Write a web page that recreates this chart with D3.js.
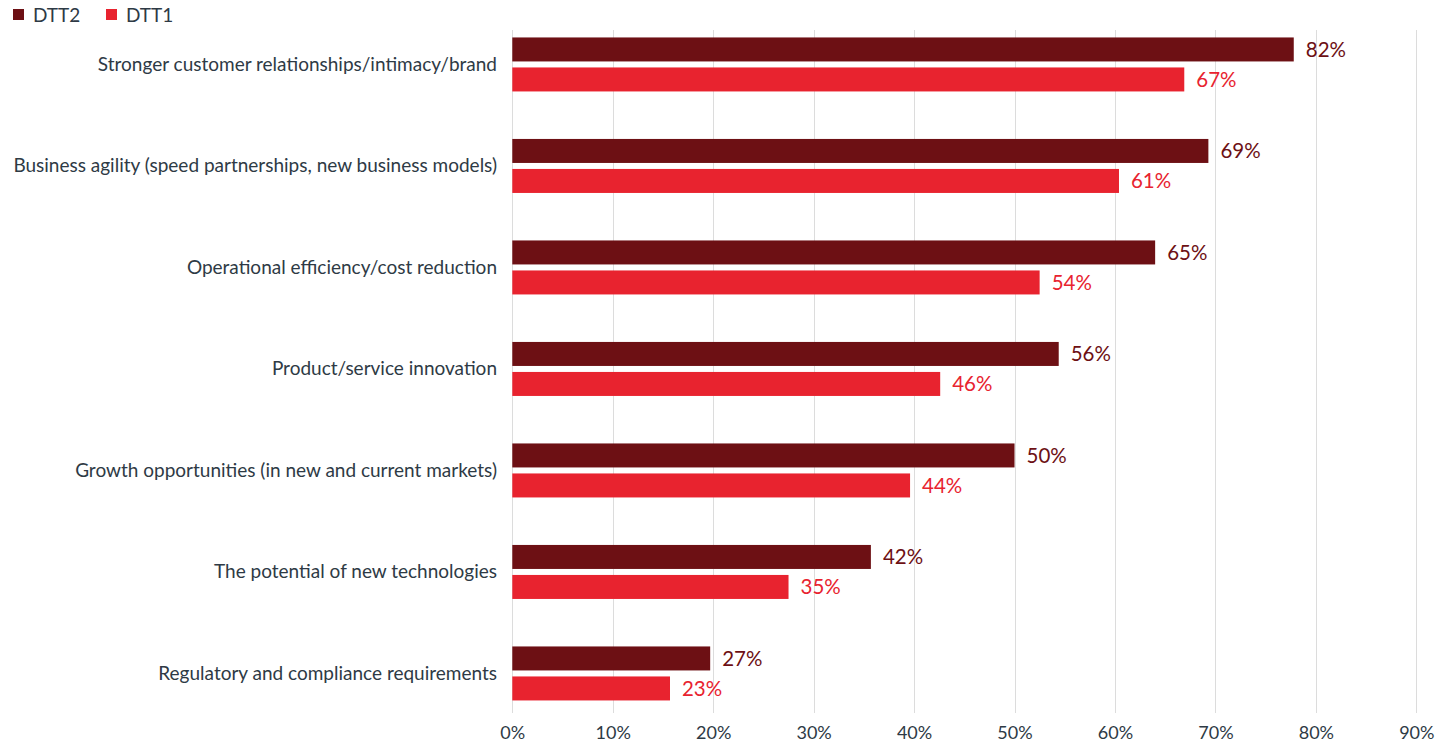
<!DOCTYPE html>
<html>
<head>
<meta charset="utf-8">
<script src="https://cdn.jsdelivr.net/npm/d3@7"></script>
<style>
  body { margin: 0; background: #fff; font-family: Lato, "Open Sans", sans-serif; }
  svg text { font-family: Lato, "Open Sans", sans-serif; }
</style>
</head>
<body>
<script>
var categories = [
  "Stronger customer relationships/intimacy/brand",
  "Business agility (speed partnerships, new business models)",
  "Operational efficiency/cost reduction",
  "Product/service innovation",
  "Growth opportunities (in new and current markets)",
  "The potential of new technologies",
  "Regulatory and compliance requirements"
];
var seriesNames = ["DTT2", "DTT1"];
// bar lengths as drawn in the picture
var dtt2Values = [77.8, 69.3, 64.0, 54.4, 50.0, 35.7, 19.7];
var dtt1Values = [66.9, 60.4, 52.5, 42.6, 39.6, 27.5, 15.7];
// labels as printed next to the bars
var dtt2Labels = ["82%", "69%", "65%", "56%", "50%", "42%", "27%"];
var dtt1Labels = ["67%", "61%", "54%", "46%", "44%", "35%", "23%"];
var xTicks = [0, 10, 20, 30, 40, 50, 60, 70, 80, 90];

var width = 1436, height = 743;
var colors = { DTT2: "#6d1014", DTT1: "#e8232f" };
var textColor = "#2e3a45";

var x = d3.scaleLinear().domain([0, 90]).range([512.3, 1416.3]);

var y = d3.scaleBand()
  .domain(categories)
  .range([13.7, 724.2])
  .paddingInner(0.468)
  .paddingOuter(0.234);

var yInner = d3.scaleBand()
  .domain(seriesNames)
  .range([0, y.bandwidth()])
  .paddingInner(0.2);

var rows = categories.map(function(c, i) {
  return {
    cat: c,
    bars: [
      { s: "DTT2", v: dtt2Values[i], label: dtt2Labels[i] },
      { s: "DTT1", v: dtt1Values[i], label: dtt1Labels[i] }
    ]
  };
});

var svg = d3.select("body").append("svg")
  .attr("width", width)
  .attr("height", height);

// gridlines
svg.append("g")
  .selectAll("line")
  .data(xTicks)
  .enter().append("line")
    .attr("x1", function(d) { return Math.round(x(d)) + 0.5; })
    .attr("x2", function(d) { return Math.round(x(d)) + 0.5; })
    .attr("y1", 30)
    .attr("y2", 713)
    .attr("stroke", "#dcdcdc")
    .attr("stroke-width", 1);

// x axis tick labels
var xAxis = d3.axisBottom(x)
  .tickValues(xTicks)
  .tickSize(0)
  .tickPadding(0)
  .tickFormat(function(d) { return d + "%"; });

var gx = svg.append("g")
  .attr("transform", "translate(0,733)")
  .call(xAxis);
gx.select(".domain").remove();
gx.selectAll("text")
  .attr("dy", "0.35em")
  .attr("y", 0)
  .attr("fill", textColor)
  .style("font-size", "18px");

// category labels
var yAxis = d3.axisLeft(y).tickSize(0).tickPadding(0);
var gy = svg.append("g")
  .attr("transform", "translate(497,0)")
  .call(yAxis);
gy.select(".domain").remove();
gy.selectAll("text")
  .attr("fill", textColor)
  .style("font-size", "19px");

// bars
var groups = svg.append("g")
  .selectAll("g")
  .data(rows)
  .enter().append("g")
    .attr("transform", function(d) { return "translate(0," + y(d.cat) + ")"; });

groups.selectAll("rect")
  .data(function(d) { return d.bars; })
  .enter().append("rect")
    .attr("x", x(0))
    .attr("y", function(d) { return yInner(d.s); })
    .attr("width", function(d) { return x(d.v) - x(0); })
    .attr("height", yInner.bandwidth())
    .attr("fill", function(d) { return colors[d.s]; });

groups.selectAll("text")
  .data(function(d) { return d.bars; })
  .enter().append("text")
    .attr("x", function(d) { return x(d.v) + 12; })
    .attr("y", function(d) { return yInner(d.s) + yInner.bandwidth() / 2; })
    .attr("dy", "0.35em")
    .attr("fill", function(d) { return colors[d.s]; })
    .style("font-size", "20.5px")
    .text(function(d) { return d.label; });

// legend
var legendX = [13, 106];
var legend = svg.append("g")
  .selectAll("g")
  .data(seriesNames)
  .enter().append("g")
    .attr("transform", function(d, i) { return "translate(" + legendX[i] + ",0)"; });

legend.append("rect")
  .attr("x", 0)
  .attr("y", 9)
  .attr("width", 11)
  .attr("height", 11)
  .attr("fill", function(d) { return colors[d]; });

legend.append("text")
  .attr("x", 20)
  .attr("y", 15)
  .attr("dy", "0.35em")
  .attr("fill", textColor)
  .style("font-size", "19px")
  .text(function(d) { return d; });
</script>
</body>
</html>
